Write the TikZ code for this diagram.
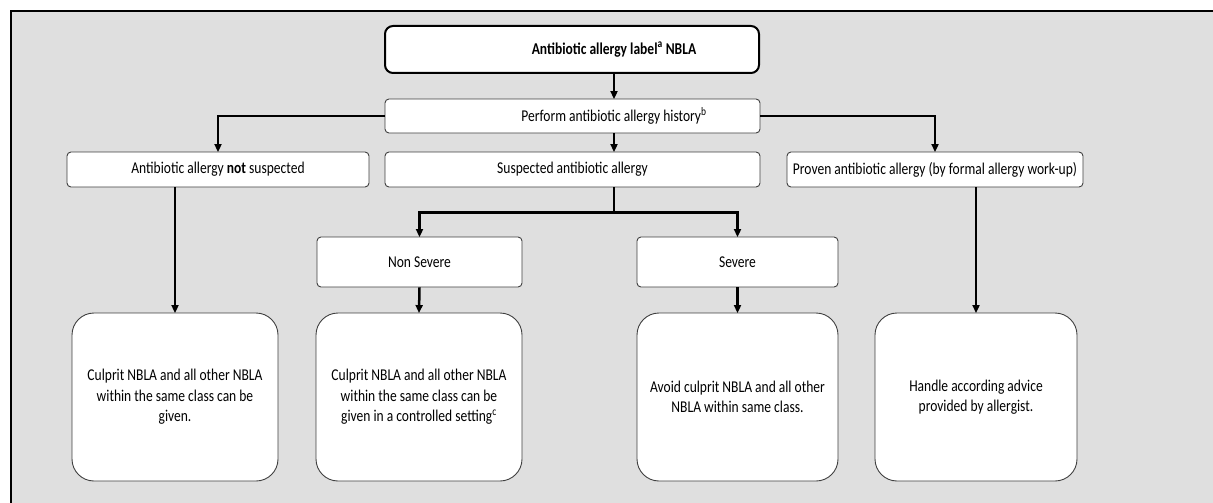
\documentclass[tikz,border=0pt]{standalone}
\usepackage{fontspec}
\setmainfont{Carlito}[FakeStretch=0.82]
\usetikzlibrary{arrows.meta}
\definecolor{panelgray}{HTML}{DFDFDF}
\begin{document}
\begin{tikzpicture}[
		x=1pt, y=-1pt,
		every node/.append style={font=\fontsize{16.5}{20.5}\selectfont},
		topbox/.style={draw=black, line width=2pt, fill=white, rounded corners=8pt, inner sep=0pt},
		stepbox/.style={draw=black!75, line width=0.9pt, fill=white, rounded corners=4pt, inner sep=0pt, align=center},
		endbox/.style={draw=black!75, line width=0.9pt, fill=white, rounded corners=22pt, inner sep=0pt, align=center, minimum height=168pt},
		link/.style={line width=2.5pt, draw=black},
		arrow/.style={link, -{Triangle[width=7pt,length=8pt]}, shorten >=-0.5pt}
		]
		
		% Background panel with frame
		\useasboundingbox (0,0) rectangle (1213,503);
		\fill[panelgray] (11,11) rectangle (1220,510);
		\draw[line width=2pt] (11,510) -- (11,11) -- (1220,11);
		
		% Top of the flow
		\node[topbox, minimum width=374pt, minimum height=47pt] (label) at (572,49.5) {};
		\node (labeltxt) at (614,49.5) {\textbf{Antibiotic allergy label\textsuperscript{a} NBLA}};
		\node[stepbox, minimum width=375pt, minimum height=34pt] (history) at (572.5,116) {};
		\node (histtxt) at (614,116) {Perform antibiotic allergy history\textsuperscript{b}};
		
		% Three outcomes of the history
		\node[stepbox, minimum width=302pt, minimum height=35pt] (notsusp) at (218,169.5) {Antibiotic allergy \textbf{not} suspected};
		\node[stepbox, minimum width=375pt, minimum height=35pt] (susp) at (572.5,169.5) {Suspected antibiotic allergy};
		\node[stepbox, minimum width=296pt, minimum height=35pt] (proven) at (935,169.5) {Proven antibiotic allergy (by formal allergy work-up)};
		
		% Severity
		\node[stepbox, minimum width=205pt, minimum height=50pt] (nonsev) at (419.5,262) {Non Severe};
		\node[stepbox, minimum width=201pt, minimum height=50pt] (sev) at (737.5,262) {Severe};
		
		% Advice boxes
		\node[endbox, minimum width=206pt] (given) at (175,397) {Culprit NBLA and all other NBLA\\within the same class can be\\given.};
		\node[endbox, minimum width=206pt] (ctrl) at (419,397) {Culprit NBLA and all other NBLA\\within the same class can be\\given in a controlled setting\textsuperscript{c}};
		\node[endbox, minimum width=201pt] (avoid) at (737.5,397) {Avoid culprit NBLA and all other\\NBLA within same class.};
		\node[endbox, minimum width=202pt] (advice) at (976,397) {Handle according advice\\provided by allergist.};
		
		% Connectors
		\draw[arrow] (label.south -| labeltxt) -- (history.north -| labeltxt);
		\draw[arrow] (history.west) -| (notsusp.north);
		\draw[arrow] (history.east) -| (proven.north);
		\draw[arrow] (history.south -| histtxt) -- (susp.north -| histtxt);
		\draw[link] (susp.south -| histtxt) -- ++(0,25) coordinate (split);
		\draw[arrow] (split) -| (nonsev.north);
		\draw[arrow] (split) -| (sev.north);
		\draw[arrow] (given.north |- notsusp.south) -- (given.north);
		\draw[arrow] (nonsev.south) -- (ctrl.north);
		\draw[arrow] (sev.south) -- (avoid.north);
		\draw[arrow] (advice.north |- proven.south) -- (advice.north);
		
	\end{tikzpicture}
\end{document}
